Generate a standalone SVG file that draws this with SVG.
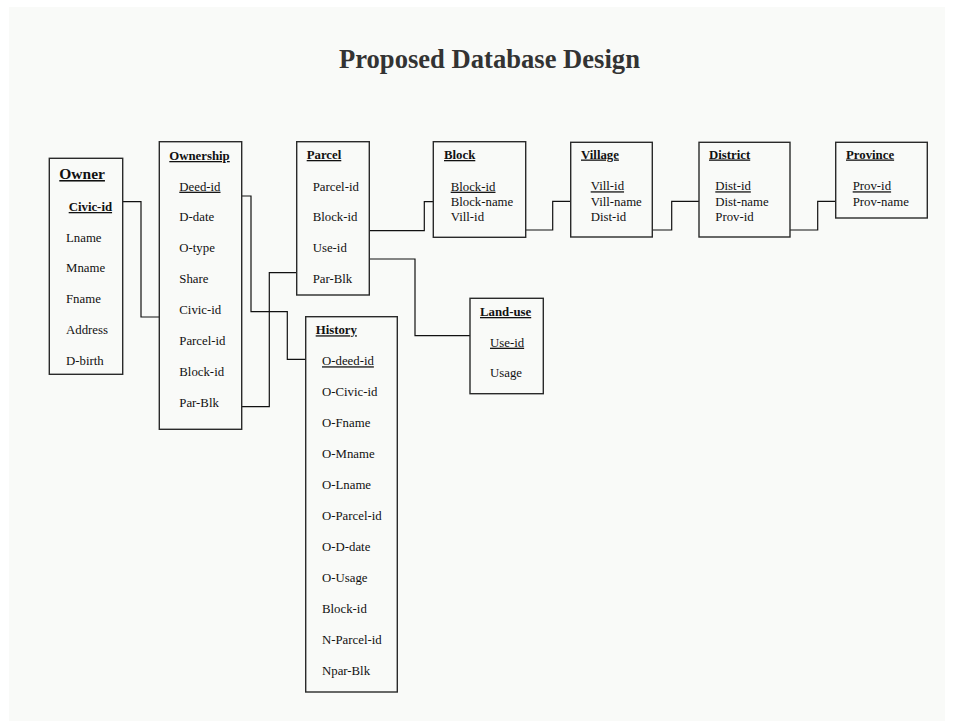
<svg xmlns="http://www.w3.org/2000/svg" width="954" height="727" viewBox="0 0 954 727">
<style>
.bg{fill:#f9faf8}
.box{fill:#f9faf8;stroke:#2a2a2a;stroke-width:1.4}
.t{font-family:"Liberation Serif","Times New Roman",serif;font-size:12.8px;fill:#111}
.h{font-weight:bold;text-decoration:underline}
.u{text-decoration:underline}
.big{font-size:15.5px}
.title{font-family:"Liberation Serif","Times New Roman",serif;font-size:26.6px;font-weight:bold;fill:#333}
.c{fill:none;stroke:#111;stroke-width:1.2}
</style>
<rect x="0" y="0" width="954" height="727" fill="#ffffff"/>
<rect class="bg" x="9" y="7" width="936" height="714"/>
<text class="title" x="339" y="68">Proposed Database Design</text>

<g id="connectors">
<polyline class="c" points="123,201.7 141,201.7 141,317 159,317"/>
<polyline class="c" points="242,196 251,196 251,311.7 287.3,311.7 287.3,359.3 306,359.3"/>
<polyline class="c" points="242,406.7 269.3,406.7 269.3,272.7 297,272.7"/>
<polyline class="c" points="369,230.7 424.3,230.7 424.3,201.7 433,201.7"/>
<polyline class="c" points="369,259 415,259 415,335.7 470,335.7"/>
<polyline class="c" points="526,230 552.7,230 552.7,201.3 571,201.3"/>
<polyline class="c" points="652,230 671.7,230 671.7,201.3 699,201.3"/>
<polyline class="c" points="790,230 817.7,230 817.7,201.3 836,201.3"/>
</g>

<g id="owner">
<rect class="box" x="49.3" y="158.3" width="73.4" height="216"/>
<text class="t h big" x="59.3" y="179">Owner</text>
<text class="t h" x="68.7" y="211">Civic-id</text>
<text class="t" x="66" y="241.7">Lname</text>
<text class="t" x="66" y="272.3">Mname</text>
<text class="t" x="66" y="303.3">Fname</text>
<text class="t" x="66" y="334.3">Address</text>
<text class="t" x="66" y="365.3">D-birth</text>
</g>

<g id="ownership">
<rect class="box" x="159.3" y="141.7" width="82.4" height="287.6"/>
<text class="t h" x="169.3" y="160">Ownership</text>
<text class="t u" x="179.3" y="190.7">Deed-id</text>
<text class="t" x="179.3" y="221.3">D-date</text>
<text class="t" x="179.3" y="252.3">O-type</text>
<text class="t" x="179.3" y="283.3">Share</text>
<text class="t" x="179.3" y="314.3">Civic-id</text>
<text class="t" x="179.3" y="345.3">Parcel-id</text>
<text class="t" x="179.3" y="376.3">Block-id</text>
<text class="t" x="179.3" y="407.3">Par-Blk</text>
</g>

<g id="parcel">
<rect class="box" x="296.7" y="141.7" width="72.6" height="153.3"/>
<text class="t h" x="306.7" y="159">Parcel</text>
<text class="t" x="312.7" y="190.7">Parcel-id</text>
<text class="t" x="312.7" y="221.3">Block-id</text>
<text class="t" x="312.7" y="252">Use-id</text>
<text class="t" x="312.7" y="282.7">Par-Blk</text>
</g>

<g id="block">
<rect class="box" x="433.3" y="141.7" width="92.4" height="95.6"/>
<text class="t h" x="444" y="159">Block</text>
<text class="t u" x="450.7" y="190.7">Block-id</text>
<text class="t" x="450.7" y="205.5">Block-name</text>
<text class="t" x="450.7" y="221">Vill-id</text>
</g>

<g id="village">
<rect class="box" x="570.7" y="142.3" width="81.6" height="94.7"/>
<text class="t h" x="581" y="158.5">Village</text>
<text class="t u" x="590.7" y="190.3">Vill-id</text>
<text class="t" x="590.7" y="205.5">Vill-name</text>
<text class="t" x="590.7" y="220.7">Dist-id</text>
</g>

<g id="district">
<rect class="box" x="699" y="142.3" width="91" height="94.7"/>
<text class="t h" x="709" y="158.5">District</text>
<text class="t u" x="715.3" y="190.3">Dist-id</text>
<text class="t" x="715.3" y="205.5">Dist-name</text>
<text class="t" x="715.3" y="220.7">Prov-id</text>
</g>

<g id="province">
<rect class="box" x="835.7" y="142.3" width="91.6" height="75.7"/>
<text class="t h" x="846" y="158.5">Province</text>
<text class="t u" x="852.7" y="190.3">Prov-id</text>
<text class="t" x="852.7" y="205.5">Prov-name</text>
</g>

<g id="land-use">
<rect class="box" x="470" y="298.3" width="73.3" height="95.4"/>
<text class="t h" x="480" y="316">Land-use</text>
<text class="t u" x="490" y="346.7">Use-id</text>
<text class="t" x="490" y="377.3">Usage</text>
</g>

<g id="history">
<rect class="box" x="305.7" y="316.7" width="91.6" height="375.3"/>
<text class="t h" x="315.7" y="334.3">History</text>
<text class="t u" x="322" y="365.3">O-deed-id</text>
<text class="t" x="322" y="396">O-Civic-id</text>
<text class="t" x="322" y="427">O-Fname</text>
<text class="t" x="322" y="457.7">O-Mname</text>
<text class="t" x="322" y="489">O-Lname</text>
<text class="t" x="322" y="520">O-Parcel-id</text>
<text class="t" x="322" y="551">O-D-date</text>
<text class="t" x="322" y="582.3">O-Usage</text>
<text class="t" x="322" y="613.3">Block-id</text>
<text class="t" x="322" y="644.3">N-Parcel-id</text>
<text class="t" x="322" y="675">Npar-Blk</text>
</g>
</svg>
